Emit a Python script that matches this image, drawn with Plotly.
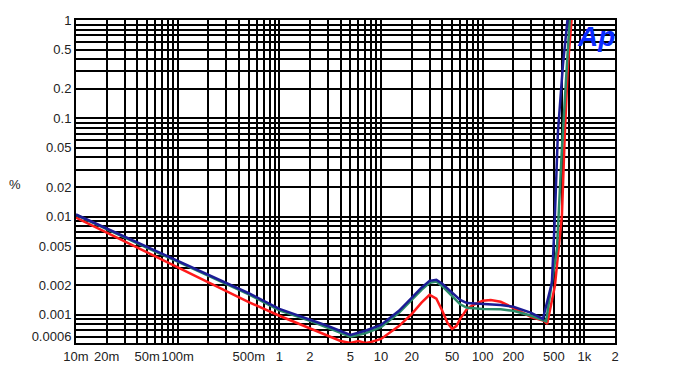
import plotly.graph_objects as go

# ---- data (power in W, THD+N in %) ----
blue_x = [0.01, 0.02, 0.05, 0.1, 0.2, 0.5, 1, 2, 3, 5, 7, 10, 15, 20, 25, 30, 35, 40, 50, 60, 70, 100, 150, 200, 300, 391, 479, 513, 549, 615, 689]
blue_y = [0.0105, 0.00757, 0.00491, 0.00355, 0.00256, 0.00166, 0.00115, 0.00089, 0.00077, 0.000625, 0.00069, 0.00079, 0.0011, 0.00149, 0.00189, 0.00222, 0.00228, 0.00207, 0.00168, 0.00142, 0.00132, 0.00129, 0.00126, 0.00121, 0.00105, 0.00091, 0.00212, 0.0102, 0.072, 0.347, 1.12]

green_x = [0.01, 0.02, 0.05, 0.1, 0.2, 0.5, 1, 2, 3, 5, 7, 10, 15, 20, 25, 30, 35, 40, 50, 60, 70, 100, 150, 200, 300, 420, 537, 601, 673, 722]
green_y = [0.0104, 0.0074, 0.0048, 0.00348, 0.0025, 0.00162, 0.00111, 0.00087, 0.00074, 0.0006, 0.00065, 0.00075, 0.00105, 0.00142, 0.0018, 0.00212, 0.00218, 0.00196, 0.00156, 0.00128, 0.00118, 0.00115, 0.00114, 0.0011, 0.00098, 0.00086, 0.0047, 0.049, 0.347, 1.12]

red_x = [0.01, 0.02, 0.05, 0.1, 0.2, 0.5, 1, 2, 3, 4, 5, 6, 7, 8, 10, 15, 20, 25, 30, 35, 40, 45, 50, 55, 60, 70, 80, 100, 120, 150, 200, 300, 400, 430, 513, 601, 643, 689, 754]
red_y = [0.00977, 0.00689, 0.00433, 0.00305, 0.00215, 0.00135, 0.00098, 0.000735, 0.000618, 0.000543, 0.000518, 0.000543, 0.000518, 0.00053, 0.000569, 0.00077, 0.00102, 0.00133, 0.0016, 0.00146, 0.0011, 0.00083, 0.00072, 0.00077, 0.00091, 0.00115, 0.00126, 0.00139, 0.00142, 0.00136, 0.00118, 0.00095, 0.00087, 0.00081, 0.00198, 0.0102, 0.072, 0.347, 1.12]

x_labels = {0.01: "10m", 0.02: "20m", 0.05: "50m", 0.1: "100m", 0.5: "500m", 1: "1", 2: "2", 5: "5",
            10: "10", 20: "20", 50: "50", 100: "100", 200: "200", 500: "500", 1000: "1k", 2000: "2"}
y_labels = {1: "1", 0.5: "0.5", 0.2: "0.2", 0.1: "0.1", 0.05: "0.05", 0.02: "0.02", 0.01: "0.01",
            0.005: "0.005", 0.002: "0.002", 0.001: "0.001", 0.0006: "0.0006"}

def grid_vals(emin, emax, lo, hi):
    vals = []
    for e in range(emin, emax + 1):
        for m in range(1, 10):
            v = round(m * 10 ** e, 6)
            if lo <= v <= hi:
                vals.append(v)
    return vals

xt = grid_vals(-2, 3, 0.01, 2000)
yt = grid_vals(-4, 0, 0.0006, 1)

def label(d, v):
    for k, t in d.items():
        if abs(k - v) / k < 1e-6:
            return t
    return ""

fig = go.Figure()
for xs, ys, col in [(red_x, red_y, "#ff1a1a"), (green_x, green_y, "#2a8a68"), (blue_x, blue_y, "#1c1c96")]:
    fig.add_trace(go.Scatter(x=xs, y=ys, mode="lines", line=dict(color=col, width=2.5), showlegend=False))

font = dict(family="Liberation Sans, Arial", size=13, color="#222")
fig.update_layout(
    width=692, height=360,
    margin=dict(l=68, r=85, t=12, b=25),
    paper_bgcolor="white", plot_bgcolor="white",
    font=font,
    xaxis=dict(type="log", range=[-2, 3.301], tickvals=xt, ticktext=[label(x_labels, v) for v in xt],
               showgrid=True, gridcolor="black", gridwidth=2, zeroline=False, ticks="",
               showline=True, linecolor="black", linewidth=2, mirror=True, tickangle=0,
               automargin=False),
    yaxis=dict(type="log", range=[-3.286, 0], tickvals=yt, ticktext=[label(y_labels, v) for v in yt],
               showgrid=True, gridcolor="black", gridwidth=2, zeroline=False, ticks="",
               showline=True, linecolor="black", linewidth=2, mirror=True, automargin=False),
    annotations=[
        dict(text="%", xref="paper", yref="paper", x=-0.113, y=0.492, showarrow=False,
             xanchor="center", yanchor="middle",
             font=dict(family="Liberation Sans, Arial", size=13, color="#222")),
        dict(text="<b><i>Ap</i></b>", xref="paper", yref="paper", x=0.965, y=0.95, showarrow=False,
             xanchor="center", yanchor="middle",
             font=dict(family="Liberation Sans, Arial", size=28, color="#0a2bff")),
    ],
)
fig.write_html("out.html")
